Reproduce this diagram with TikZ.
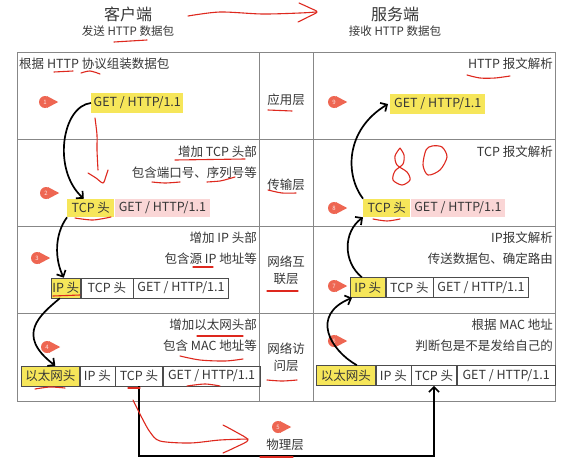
\documentclass[tikz,border=0pt]{standalone}
\usepackage{fontspec}
\setmainfont{Noto Sans CJK SC}
\usetikzlibrary{arrows.meta}
\definecolor{txt}{RGB}{55,55,55}
\definecolor{gridc}{RGB}{135,135,135}
\definecolor{hl}{RGB}{246,230,90}
\definecolor{pk}{RGB}{250,214,214}
\definecolor{badgec}{RGB}{238,102,82}
\definecolor{annred}{RGB}{222,40,30}
\newcommand\mkbadge[3]{%
  \node[badge] (#1) at (#2) {#3};
  \fill[badgec] (#1.70) -- ([xshift=7pt]#1.east) -- (#1.-70) -- cycle;}
\begin{document}
\begin{tikzpicture}[x=1pt,y=-1pt,
  lbl/.style={text=txt,inner sep=0pt,font=\fontsize{12.5}{17}\selectfont},
  head/.style={text=txt,inner sep=0pt,font=\fontsize{16}{18}\selectfont},
  sub/.style={text=txt,inner sep=0pt,font=\fontsize{11.5}{13}\selectfont},
  box/.style={draw=black!70,line width=0.6pt,minimum height=20pt,inner sep=0pt,anchor=west,text=txt,font=\fontsize{12.5}{14}\selectfont},
  plain/.style={box,draw=none},
  grid/.style={draw=gridc,line width=0.8pt},
  flow/.style={draw=black,line width=1.7pt,-{Straight Barb[length=5pt,width=10pt]}},
  ann/.style={draw=annred,line width=1.1pt,line cap=round,line join=round},
  badge/.style={circle,fill=badgec,minimum size=12pt,inner sep=0pt,text=white!85!badgec,font=\fontsize{6}{6}\selectfont}]
\useasboundingbox (0,0) rectangle (567,463);
\fill[white] (0,0) rectangle (567,463);
% headers
\node[head] (client) at (128,14) {客户端};
\node[sub] (clientsub) at (128,31) {发送 HTTP 数据包};
\node[head] (server) at (395,14) {服务端};
\node[sub] (serversub) at (395,31) {接收 HTTP 数据包};
% table
\draw[grid] (17,52) rectangle (555,401);
\foreach \yy in {139,226,313} \draw[grid] (17,\yy) -- (555,\yy);
\draw[grid] (259,52) -- (259,401);
\draw[grid] (313,52) -- (313,401);
% middle labels
\node[lbl] (l1) at (286,100) {应用层};
\node[lbl] (l2) at (286,185) {传输层};
\node[lbl,align=center] (l3) at (286,270) {网络互\\联层};
\node[lbl,align=center] (l4) at (286,357) {网络访\\问层};
% left texts
\node[lbl,anchor=west] (lt1) at (19,64) {根据 HTTP 协议组装数据包};
\node[lbl,anchor=east] (lt2a) at (257,152) {增加 TCP 头部};
\node[lbl,anchor=east] (lt2b) at (257,173) {包含端口号、序列号等};
\node[lbl,anchor=east] (lt3a) at (257,238) {增加 IP 头部};
\node[lbl,anchor=east] (lt3b) at (257,259) {包含源 IP 地址等};
\node[lbl,anchor=east] (lt4a) at (257,325) {增加以太网头部};
\node[lbl,anchor=east] (lt4b) at (257,346) {包含 MAC 地址等};
% right texts
\node[lbl,anchor=east] (rt1) at (553,64) {HTTP 报文解析};
\node[lbl,anchor=east] (rt2) at (553,152) {TCP 报文解析};
\node[lbl,anchor=east] (rt3a) at (553,238) {IP报文解析};
\node[lbl,anchor=east] (rt3b) at (553,259) {传送数据包、确定路由};
\node[lbl,anchor=east] (rt4a) at (553,325) {根据 MAC 地址};
\node[lbl,anchor=east] (rt4b) at (553,346) {判断包是不是发给自己的};
% left boxes
\node[plain,fill=hl,minimum width=92] (getL1) at (91,103) {GET / HTTP/1.1};
\node[plain,fill=hl,minimum width=47,minimum height=18] (tcpL2) at (67,208) {TCP 头};
\node[plain,fill=pk,minimum width=95,minimum height=18] (getL2) at (tcpL2.east) {GET / HTTP/1.1};
\node[box,fill=hl,minimum width=29] (ipL3) at (51,288) {IP 头};
\node[box,minimum width=52] (tcpL3) at (ipL3.east) {TCP 头};
\node[box,minimum width=95] (getL3) at (tcpL3.east) {GET / HTTP/1.1};
\node[box,fill=hl,minimum width=58] (ethL4) at (21,376) {以太网头};
\node[box,minimum width=35] (ipL4) at (ethL4.east) {IP 头};
\node[box,minimum width=47] (tcpL4) at (ipL4.east) {TCP 头};
\node[box,minimum width=97] (getL4) at (tcpL4.east) {GET / HTTP/1.1};
% right boxes
\node[plain,fill=hl,minimum width=95] (getR1) at (390,104) {GET / HTTP/1.1};
\node[plain,fill=hl,minimum width=47,minimum height=18] (tcpR2) at (363,208) {TCP 头};
\node[plain,fill=pk,minimum width=94,minimum height=18] (getR2) at (tcpR2.east) {GET / HTTP/1.1};
\node[box,fill=hl,minimum width=35] (ipR3) at (350,287.5) {IP 头};
\node[box,minimum width=47] (tcpR3) at (ipR3.east) {TCP 头};
\node[box,minimum width=95] (getR3) at (tcpR3.east) {GET / HTTP/1.1};
\node[box,fill=hl,minimum width=59] (ethR4) at (316,375.5) {以太网头};
\node[box,minimum width=35] (ipR4) at (ethR4.east) {IP 头};
\node[box,minimum width=45] (tcpR4) at (ipR4.east) {TCP 头};
\node[box,minimum width=98] (getR4) at (tcpR4.east) {GET / HTTP/1.1};
% physical layer
\node[lbl] (phys) at (285,445) {物理层};
% badges
\mkbadge{b1}{45,102}{1}
\mkbadge{b2}{46,193}{2}
\mkbadge{b3}{37,258}{3}
\mkbadge{b4}{47,347}{4}
\mkbadge{b5}{278,427}{5}
\mkbadge{b6}{334,341}{6}
\mkbadge{b7}{334,286}{7}
\mkbadge{b8}{334,208}{8}
\mkbadge{b9}{334,102}{9}
% black connectors
\draw[flow] (getL1.west) .. controls (62,106) and (52,170) .. ([xshift=-7pt]tcpL2.north);
\draw[flow] (tcpL2.south west) .. controls (54,235) and (55,260) .. ([xshift=-2pt]ipL3.north);
\draw[flow] ([xshift=-6pt]ipL3.south) .. controls (40,315) and (15,335) .. ([xshift=5pt]ethL4.north);
\draw[flow] ([xshift=11pt]ethR4.north) .. controls (330,350) and (310,315) .. ([xshift=2pt]ipR3.south west);
\draw[flow] ([xshift=-6pt]ipR3.north) .. controls (343,262) and (343,232) .. (tcpR2.south west);
\draw[flow] (tcpR2.north west) .. controls (345,175) and (345,130) .. ([xshift=-2pt]getR1.west);
\draw[flow] (tcpL4.south) -- ++(0,70) -| (tcpR4.south);
% red annotations
\draw[ann] plot[smooth] coordinates {(188,16) (220,12) (262,14) (300,13) (316,12)};
\draw[ann] plot[smooth] coordinates {(299,3) (310,8) (317,12) (308,17) (298,22)};
\draw[ann] (114,42) -- (147,40);
\draw[ann] (54,72) -- (73,71);
\draw[ann] plot[smooth] coordinates {(81,73) (90,71) (100,74)};
\draw[ann] (268,110) -- (292,111);
\draw[ann] plot[smooth] coordinates {(95,118) (97,135) (97,150) (98,170)};
\draw[ann] plot[smooth] coordinates {(88,173) (96,178) (103,183) (106,176) (108,170)};
\draw[ann] (175,160) -- (245,159);
\draw[ann] plot[smooth] coordinates {(152,182) (165,183) (180,182)};
\draw[ann] plot[smooth] coordinates {(207,182) (220,181) (228,179) (235,177)};
\draw[ann] plot[smooth] coordinates {(75,218) (93,220) (111,217)};
\draw[ann] plot[smooth] coordinates {(268,190) (282,193) (296,193)};
\draw[ann] (193,267) -- (213,267);
\draw[ann] (53,296) -- (80,295);
\draw[ann] (267,291) -- (298,291);
\draw[ann] (197,336) -- (243,336);
\draw[ann] plot[smooth] coordinates {(180,356) (200,360) (225,361) (243,359)};
\draw[ann] plot[smooth] coordinates {(35,389) (50,387) (65,388)};
\draw[ann] (128,388) -- (140,388);
\draw[ann] plot[smooth] coordinates {(187,386) (205,384) (220,386)};
\draw[ann] plot[smooth] coordinates {(267,380) (282,381) (297,380)};
\draw[ann] plot[smooth] coordinates {(467,75) (480,78) (495,78) (510,76)};
\draw[ann] plot[smooth] coordinates {(400,148) (395,156) (397,165) (407,172) (410,180) (402,185) (393,180) (395,171) (403,164) (404,155) (400,148)};
\draw[ann] plot[smooth cycle] coordinates {(426,150) (423,165) (428,175) (440,170) (447,157) (442,147) (432,146)};
\draw[ann] plot[smooth] coordinates {(373,219) (387,221) (400,219)};
\draw[ann] plot[smooth] coordinates {(133,400) (142,418) (150,432) (160,441) (190,443) (220,440) (248,439)};
\draw[ann] plot[smooth] coordinates {(223,425) (236,432) (248,440) (236,447) (223,453)};
\draw[ann] (260,457) -- (293,457);
\end{tikzpicture}
\end{document}
